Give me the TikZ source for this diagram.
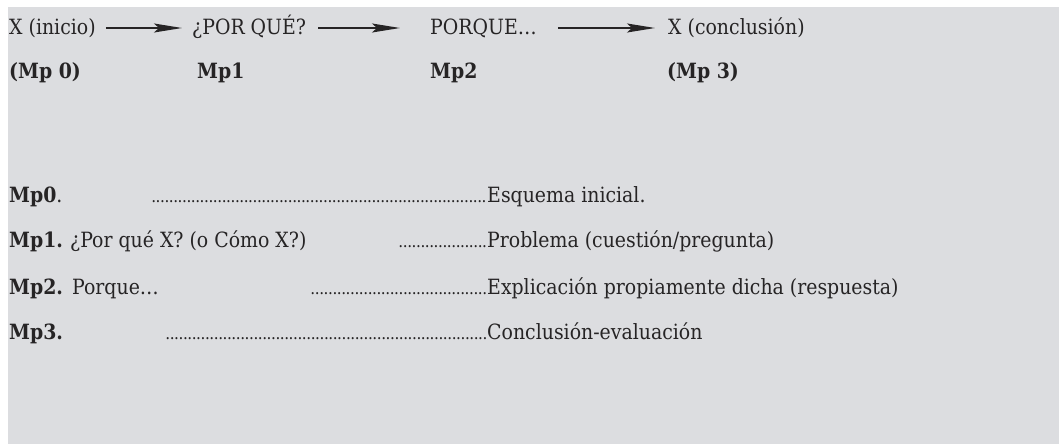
\documentclass[tikz,border=0pt]{standalone}
\usepackage{fontspec}
\setmainfont{DejaVu Serif Condensed}
\usetikzlibrary{arrows.meta}
\definecolor{bg}{HTML}{DCDDE0}
\definecolor{ink}{HTML}{262425}
\newcommand\dotrun[1]{{\fontsize{17}{20}\selectfont\hbox to #1{\cleaders\hbox to 4.4pt{\hss.\hss}\hfill}}}
\begin{document}
\begin{tikzpicture}[x=1pt,y=-1pt,
  lbl/.style={anchor=base west, inner sep=0pt, text=ink, font=\fontsize{21}{24}\selectfont},
  bl/.style={lbl, font=\fontsize{21}{24}\selectfont\bfseries},
  rowbox/.style={text height=16pt, text depth=2pt},
  arr/.style={-{Stealth[length=28pt,width=9pt,inset=5pt]}, line width=1.5pt, draw=ink}]
\useasboundingbox (0,0) rectangle (1059,444);
\fill[white] (0,0) rectangle (1059,444);
\fill[bg] (8,7) rectangle (1059,444);
% top row
\node[lbl,rowbox] (x0) at (9,35) {X (inicio)};
\node[lbl,rowbox] (pq) at (192,35) {¿POR QUÉ?};
\node[lbl,rowbox] (pc) at (430,35) {PORQUE…};
\node[lbl,rowbox] (x3) at (668,35) {X (conclusión)};
\draw[arr, shorten <=10pt, shorten >=10pt] (x0) -- (pq);
\draw[arr, shorten <=12pt, shorten >=30pt] (pq) -- (pc);
\draw[arr, shorten <=21pt, shorten >=13pt] (pc) -- (x3);
% second row
\node[bl] (m0) at (9,78) {(Mp 0)};
\node[bl] (m1) at (197,78) {Mp1};
\node[bl] (m2) at (430,78) {Mp2};
\node[bl] (m3) at (667,78) {(Mp 3)};
% list
\node[lbl] (l0) at (9,202) {\textbf{Mp0}.};
\node[lbl] (d0) at (150,202) {\dotrun{337pt}};
\node[lbl] (e0) at (487,202) {Esquema inicial.};
\node[lbl] (l1) at (9,247) {\textbf{Mp1.}};
\node[lbl] (q1) at (70,247) {¿Por qué X? (o Cómo X?)};
\node[lbl] (d1) at (398,247) {\dotrun{89pt}};
\node[lbl] (e1) at (487,247) {Problema (cuestión/pregunta)};
\node[lbl] (l2) at (9,294) {\textbf{Mp2.}};
\node[lbl] (q2) at (72,294) {Porque…};
\node[lbl] (d2) at (310,294) {\dotrun{177pt}};
\node[lbl] (e2) at (487,294) {Explicación propiamente dicha (respuesta)};
\node[lbl] (l3) at (9,339) {\textbf{Mp3.}};
\node[lbl] (d3) at (165,339) {\dotrun{322pt}};
\node[lbl] (e3) at (487,339) {Conclusión-evaluación};
\end{tikzpicture}
\end{document}
